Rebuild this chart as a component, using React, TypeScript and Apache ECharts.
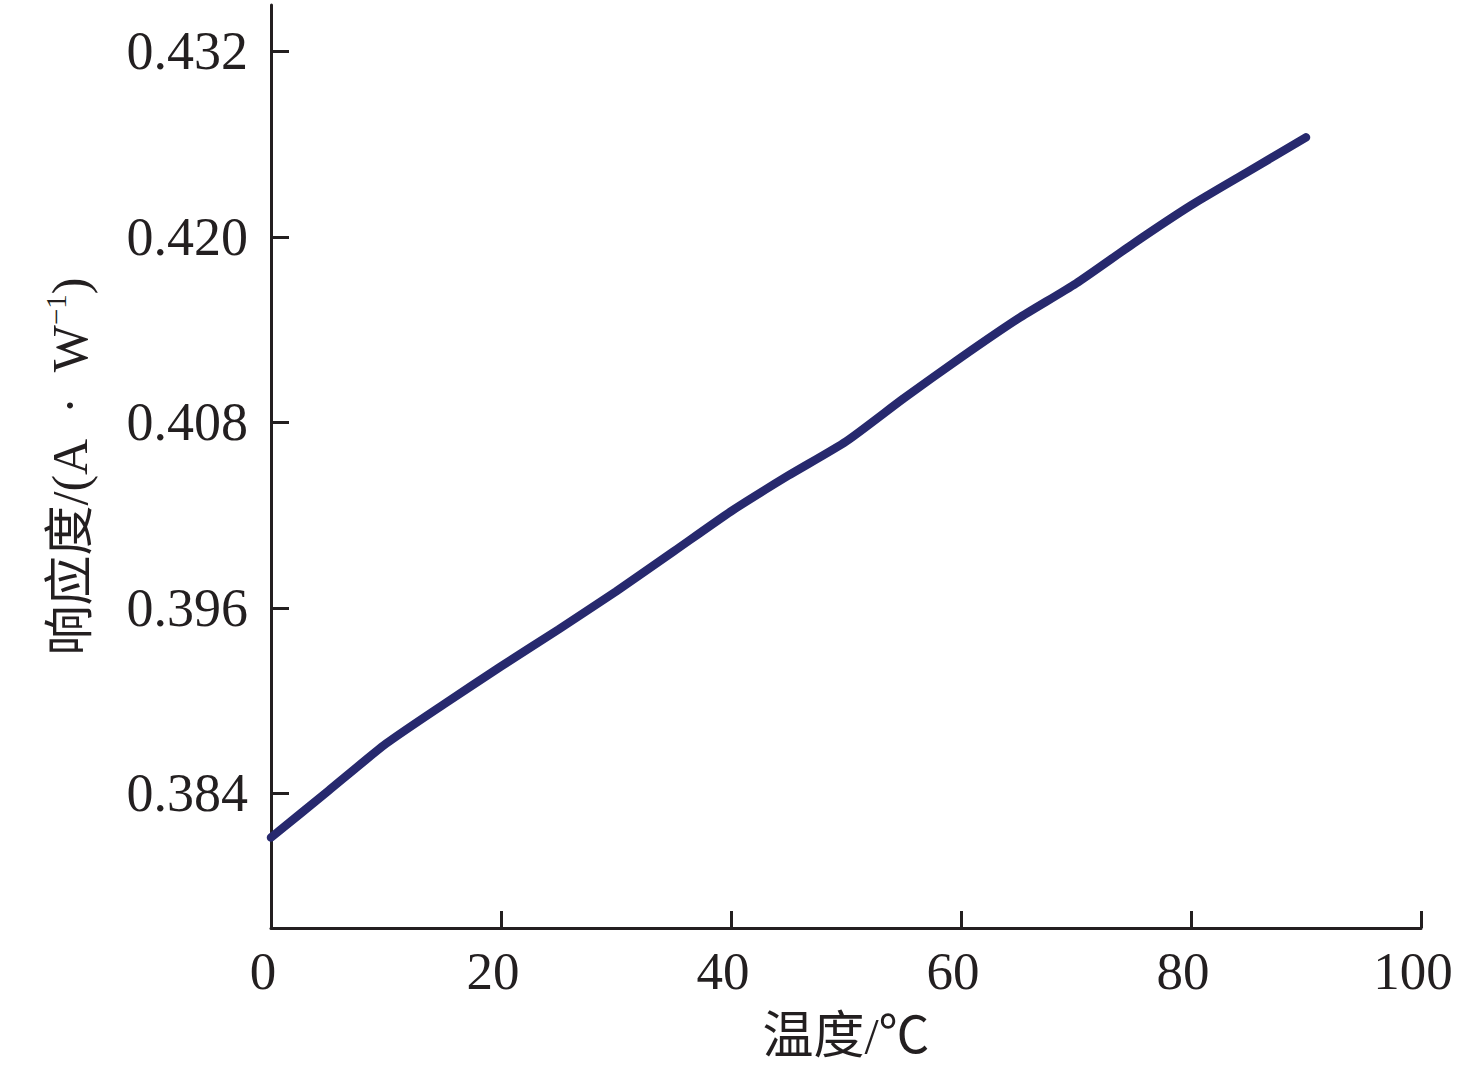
import React, { useEffect, useRef } from "react";
import * as echarts from "echarts";

const temperatures = [0, 5, 10, 15, 20, 25, 30, 35, 40, 45, 50, 55, 60, 65, 70, 75, 80, 85, 90];
const responsivity = [
  0.38115, 0.38418, 0.38722, 0.38976, 0.39222, 0.39461, 0.39707, 0.39965, 0.40225, 0.40457,
  0.40677, 0.40955, 0.4122, 0.41473, 0.41699, 0.41958, 0.42204, 0.42424, 0.42644,
];
const yTicks = [0.384, 0.396, 0.408, 0.42, 0.432];
const xTicks = [0, 20, 40, 60, 80, 100];

const SERIF = "'Liberation Serif', 'Times New Roman', 'Noto Sans CJK SC', serif";

export default function App() {
  const ref = useRef<HTMLDivElement>(null);
  useEffect(() => {
    if (!ref.current) return;
    const chart = echarts.init(ref.current, undefined, { renderer: "svg" });
    const axisColor = "#231f20";
    chart.setOption({
      animation: false,
      backgroundColor: "#ffffff",
      grid: { left: 271, right: 55, top: 5, bottom: 149, containLabel: false },
      xAxis: {
        type: "value",
        min: 0,
        max: 100,
        interval: 20,
        name: "温度/℃",
        nameLocation: "middle",
        nameGap: 82,
        nameTextStyle: { fontFamily: SERIF, fontSize: 51, color: axisColor },
        axisLine: { show: true, lineStyle: { color: axisColor, width: 3 } },
        axisTick: {
          show: true,
          inside: true,
          length: 17,
          lineStyle: { color: axisColor, width: 3 },
          customValues: xTicks.slice(1),
        },
        axisLabel: {
          fontFamily: SERIF,
          fontSize: 53,
          color: axisColor,
          margin: 16,
          padding: [0, 16, 0, 0],
          customValues: xTicks,
        },
        splitLine: { show: false },
      },
      yAxis: {
        type: "value",
        min: 0.3753,
        max: 0.435,
        name: "{n|响应度/(A\u2002·\u2002W}{s|−1}{n|)}",
        nameLocation: "middle",
        nameRotate: 90,
        nameGap: 172,
        nameTextStyle: {
          fontFamily: SERIF,
          fontSize: 50,
          color: axisColor,
          rich: {
            n: { fontFamily: SERIF, fontSize: 50, color: axisColor, lineHeight: 58 },
            s: { fontFamily: SERIF, fontSize: 29, color: axisColor, verticalAlign: "top", lineHeight: 58 },
          },
        },
        axisLine: { show: true, lineStyle: { color: axisColor, width: 3 } },
        axisTick: {
          show: true,
          inside: true,
          length: 18,
          lineStyle: { color: axisColor, width: 3 },
          customValues: yTicks,
        },
        axisLabel: {
          fontFamily: SERIF,
          fontSize: 54,
          color: axisColor,
          margin: 23,
          customValues: yTicks,
          formatter: (v: number) => v.toFixed(3),
        },
        splitLine: { show: false },
      },
      series: [
        {
          type: "line",
          data: temperatures.map((t, i) => [t, responsivity[i]]),
          showSymbol: false,
          smooth: 0.2,
          lineStyle: { color: "#27296e", width: 8.5, cap: "round" },
          itemStyle: { color: "#27296e" },
        },
      ],
    });
    return () => chart.dispose();
  }, []);
  return (
    <div
      ref={ref}
      style={{ position: "absolute", left: 0, top: 0, width: 1476, height: 1077, background: "#fff" }}
    />
  );
}
